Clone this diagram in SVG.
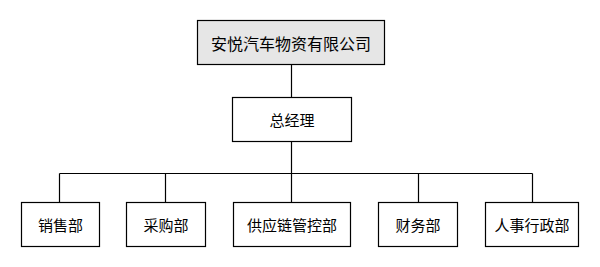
<svg xmlns="http://www.w3.org/2000/svg" width="600" height="267" viewBox="0 0 600 267">
<style>
.box{fill:#ffffff;stroke:#000000;stroke-width:1.2}
.top{fill:#e6e6e6}
.lbl{font-family:"Noto Sans CJK SC","Liberation Sans",sans-serif;font-size:15px;fill:#000;text-anchor:middle;dominant-baseline:central}
.conn{fill:none;stroke:#000;stroke-width:1.2}
</style>
<rect width="600" height="267" fill="#ffffff"/>
<g id="connectors">
<path class="conn" d="M291.5 64V97M291.5 142V202M59.5 173.5H532.5M59.5 173.5V202M165.5 173.5V202M418.5 173.5V202M532.5 173.5V202"/>
</g>
<g id="company"><rect class="box top" x="197.5" y="20.5" width="187" height="44"/><text class="lbl" x="291" y="42.5" style="font-size:16px">安悦汽车物资有限公司</text></g>
<g id="gm"><rect class="box" x="232.5" y="97.5" width="119" height="44"/><text class="lbl" x="292" y="119.5">总经理</text></g>
<g id="sales"><rect class="box" x="21.5" y="202.5" width="78" height="44"/><text class="lbl" x="60.5" y="224.5">销售部</text></g>
<g id="purchase"><rect class="box" x="126.5" y="202.5" width="79" height="44"/><text class="lbl" x="166" y="224.5">采购部</text></g>
<g id="supply"><rect class="box" x="233.5" y="202.5" width="117" height="44"/><text class="lbl" x="292" y="224.5">供应链管控部</text></g>
<g id="finance"><rect class="box" x="378.5" y="202.5" width="79" height="44"/><text class="lbl" x="418" y="224.5">财务部</text></g>
<g id="hr"><rect class="box" x="485.5" y="202.5" width="93" height="44"/><text class="lbl" x="532" y="224.5">人事行政部</text></g>
</svg>
